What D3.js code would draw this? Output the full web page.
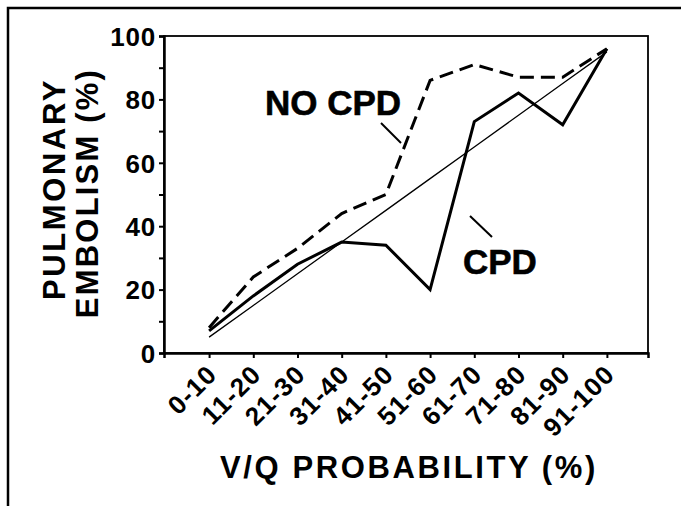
<!DOCTYPE html>
<html>
<head>
<meta charset="utf-8">
<script src="https://cdn.jsdelivr.net/npm/d3@7"></script>
<style>
  body { margin: 0; background: #fff; }
  text { font-family: "Liberation Sans", Arial, Helvetica, sans-serif; font-weight: bold; fill: #000; }
</style>
</head>
<body>
<div id="chart"></div>
<script>
// Data
const categories = ['0-10', '11-20', '21-30', '31-40', '41-50', '51-60', '61-70', '71-80', '81-90', '91-100'];
const cpd = [7, 18, 28, 35, 34, 20, 73, 82, 72, 96];
const noCpd = [8, 24, 33, 44, 50, 86, 91, 87, 87, 96];
const expected = [5, 15, 25, 35, 45, 55, 65, 75, 85, 95];
const yTicks = [0, 10, 20, 30, 40, 50, 60, 70, 80, 90, 100];

// Constants
const WIDTH = 681;
const HEIGHT = 506;
const LEFT = 164, RIGHT = 648, TOP = 36, BOTTOM = 353;

const svg = d3.select('#chart')
    .append('svg').attr('width', WIDTH).attr('height', HEIGHT);

svg.append('rect').attr('width', WIDTH).attr('height', HEIGHT).attr('fill', '#fff');

// outer frame (only left and top edges show)
svg.append('path')
    .attr('d', `M8,${HEIGHT} V8 H${WIDTH}`)
    .attr('fill', 'none')
    .attr('stroke', '#000')
    .attr('stroke-width', 2.5);

// Scales
const x = d3.scaleLinear().domain([-1.02, 9.93]).range([LEFT, RIGHT]);
const y = d3.scaleLinear().domain([0, 100]).range([BOTTOM, TOP]);

// plot box
svg.append('rect')
    .attr('x', LEFT).attr('y', TOP)
    .attr('width', RIGHT - LEFT).attr('height', BOTTOM - TOP)
    .attr('fill', 'none')
    .attr('stroke', '#000')
    .attr('stroke-width', 1.8);

// Axes
const yAxis = d3.axisLeft(y)
    .tickValues(yTicks)
    .tickSize(5)
    .tickPadding(3)
    .tickFormat(d => d % 20 === 0 ? d : '');
const gy = svg.append('g')
    .attr('transform', `translate(${LEFT},0)`)
    .call(yAxis);
gy.select('.domain').attr('stroke-width', 2.5);
gy.selectAll('line').attr('stroke-width', 2);
gy.selectAll('text')
    .attr('font-size', 26)
    .attr('letter-spacing', 0.8)
    .attr('dy', '0.36em');

const xAxis = d3.axisBottom(x)
    .tickValues(d3.range(categories.length))
    .tickSize(5)
    .tickFormat(i => categories[i]);
const gx = svg.append('g')
    .attr('transform', `translate(0,${BOTTOM})`)
    .call(xAxis);
gx.select('.domain').attr('stroke-width', 2.5);
gx.selectAll('line').attr('stroke-width', 2);
gx.selectAll('text')
    .attr('font-size', 26)
    .attr('letter-spacing', 1.2)
    .attr('text-anchor', 'end')
    .attr('dy', null)
    .attr('y', null)
    .attr('transform', 'translate(9,23) rotate(-45)');

// Lines
const line = d3.line().x((d, i) => x(i)).y(d => y(d));

svg.append('path')
    .datum(expected)
    .attr('d', line)
    .attr('fill', 'none')
    .attr('stroke', '#000')
    .attr('stroke-width', 1.3);

svg.append('path')
    .datum(noCpd)
    .attr('d', line)
    .attr('fill', 'none')
    .attr('stroke', '#000')
    .attr('stroke-width', 3)
    .attr('stroke-dasharray', '14,7');

svg.append('path')
    .datum(cpd)
    .attr('d', line)
    .attr('fill', 'none')
    .attr('stroke', '#000')
    .attr('stroke-width', 3)
    .attr('stroke-linejoin', 'miter');

// Series labels + leader lines
svg.append('text')
    .text('NO CPD')
    .attr('x', 265).attr('y', 115)
    .attr('font-size', 35)
    .attr('font-weight', 'normal')
    .attr('stroke', '#000').attr('stroke-width', 0.6);
svg.append('line')
    .attr('x1', 381).attr('y1', 123).attr('x2', 401).attr('y2', 143)
    .attr('stroke', '#000').attr('stroke-width', 2);

svg.append('text')
    .text('CPD')
    .attr('x', 463).attr('y', 274)
    .attr('font-size', 35)
    .attr('font-weight', 'normal')
    .attr('stroke', '#000').attr('stroke-width', 0.6);
svg.append('line')
    .attr('x1', 470).attr('y1', 216).attr('x2', 492).attr('y2', 237)
    .attr('stroke', '#000').attr('stroke-width', 2);

// Axis titles
svg.append('text')
    .text('PULMONARY')
    .attr('text-anchor', 'middle')
    .attr('font-size', 31)
    .attr('letter-spacing', 2.6)
    .attr('transform', 'translate(65,189) rotate(-90)');
svg.append('text')
    .text('EMBOLISM (%)')
    .attr('text-anchor', 'middle')
    .attr('font-size', 31)
    .attr('letter-spacing', 2.2)
    .attr('transform', 'translate(98,193) rotate(-90)');

svg.append('text')
    .text('V/Q PROBABILITY (%)')
    .attr('text-anchor', 'middle')
    .attr('font-size', 31)
    .attr('letter-spacing', 2.6)
    .attr('x', 409).attr('y', 478);
</script>
</body>
</html>
